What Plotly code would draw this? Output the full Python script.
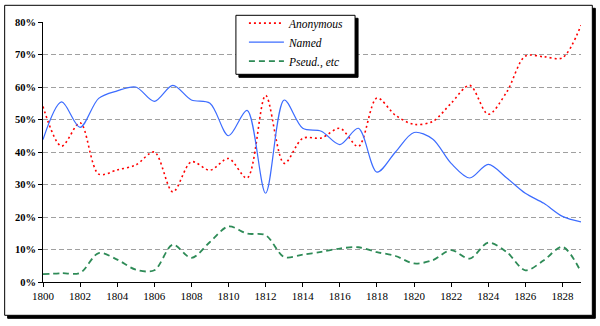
import plotly.graph_objects as go

years = list(range(1800, 1830))

anonymous = [54, 41.8, 49, 33.2, 34.5, 36, 40, 27.7, 37, 34.4, 38, 32, 57.4, 36.5, 44.2,
             44.3, 47.3, 41.7, 56.6, 51.3, 48.5, 49.4, 55, 60.5, 51.6, 58.5, 69.5, 69.3, 69, 79]
named = [43.8, 55.4, 47.6, 56.5, 58.8, 60, 55.6, 60.5, 56, 55, 45, 52.8, 27.3, 56, 47.3,
         46.4, 42.3, 47.3, 33.8, 40, 46, 44, 36.5, 32, 36.2, 32, 27.3, 24.2, 20.2, 18.5]
pseud = [2.4, 2.7, 2.8, 8.9, 6.9, 3.8, 3.6, 11.5, 7.4, 12.3, 17.1, 14.9, 14.4, 7.7, 8.4,
         9.3, 10.3, 10.7, 9.2, 8, 5.7, 6.7, 9.8, 7.2, 12.1, 9.2, 3.6, 6.7, 10.8, 3.1]

series_names = ["Anonymous", "Named", "Pseud., etc"]
y_ticks = [0, 10, 20, 30, 40, 50, 60, 70, 80]
x_ticks = list(range(1800, 1830, 2))

SERIF = "Liberation Serif"

fig = go.Figure()
fig.add_trace(go.Scatter(x=years, y=anonymous, name=series_names[0], mode="lines",
                         line=dict(color="#ff0000", width=1.6, dash="2px,3px", shape="spline", smoothing=0.9)))
fig.add_trace(go.Scatter(x=years, y=named, name=series_names[1], mode="lines",
                         line=dict(color="#3c6cff", width=1.2, shape="spline", smoothing=0.9)))
fig.add_trace(go.Scatter(x=years, y=pseud, name=series_names[2], mode="lines",
                         line=dict(color="#2e8b57", width=1.8, dash="6px,4px", shape="spline", smoothing=0.9)))

L, R, T, B = 43.3, 19.3, 21.7, 44.3
pw = 600 - L - R
ph = 326 - T - B

def px2paper_x(px):
    return (px - L) / pw

def px2paper_y(py):
    return (326 - B - py) / ph

shapes = [
    # outer frame shadow + frame
    dict(type="rect", xref="paper", yref="paper", layer="below",
         x0=px2paper_x(8), x1=px2paper_x(595), y0=px2paper_y(318), y1=px2paper_y(8),
         fillcolor="black", line=dict(color="black", width=1)),
    dict(type="rect", xref="paper", yref="paper", layer="below",
         x0=px2paper_x(5), x1=px2paper_x(592), y0=px2paper_y(315), y1=px2paper_y(5),
         fillcolor="white", line=dict(color="black", width=1)),
    # legend box shadow + box
    dict(type="rect", xref="paper", yref="paper", layer="above",
         x0=px2paper_x(239), x1=px2paper_x(358), y0=px2paper_y(77), y1=px2paper_y(18),
         fillcolor="black", line=dict(color="black", width=1)),
    dict(type="rect", xref="paper", yref="paper", layer="above",
         x0=px2paper_x(236), x1=px2paper_x(355), y0=px2paper_y(74), y1=px2paper_y(15),
         fillcolor="white", line=dict(color="black", width=1)),
]

fig.update_layout(
    width=600, height=326,
    margin=dict(l=L, r=R, t=T, b=B, pad=0, autoexpand=False),
    paper_bgcolor="white", plot_bgcolor="white",
    shapes=shapes,
    showlegend=True,
    legend=dict(x=px2paper_x(244), y=px2paper_y(8.3), xanchor="left", yanchor="top",
                bgcolor="rgba(0,0,0,0)", borderwidth=0,
                font=dict(family=SERIF, size=11.5, style="italic", color="black"),
                tracegroupgap=0, itemwidth=35),
    xaxis=dict(range=[1800, 1829], tickvals=x_ticks, ticktext=[str(v) for v in x_ticks],
               showgrid=False, showline=True, linecolor="black", linewidth=1,
               ticks="outside", ticklen=4, tickcolor="black", automargin=False,
               tickfont=dict(family=SERIF, size=11, color="black"), zeroline=False),
    yaxis=dict(range=[0, 80], tickvals=y_ticks, ticktext=[f"{v}%" for v in y_ticks],
               showgrid=True, gridcolor="#a0a0a0", gridwidth=1, griddash="5px,3px",
               showline=True, linecolor="black", linewidth=1, automargin=False,
               ticks="outside", ticklen=4, tickcolor="black",
               tickfont=dict(family=SERIF, size=10.5, color="black", weight="bold"),
               zeroline=False),
)

fig.write_html("out.html")
